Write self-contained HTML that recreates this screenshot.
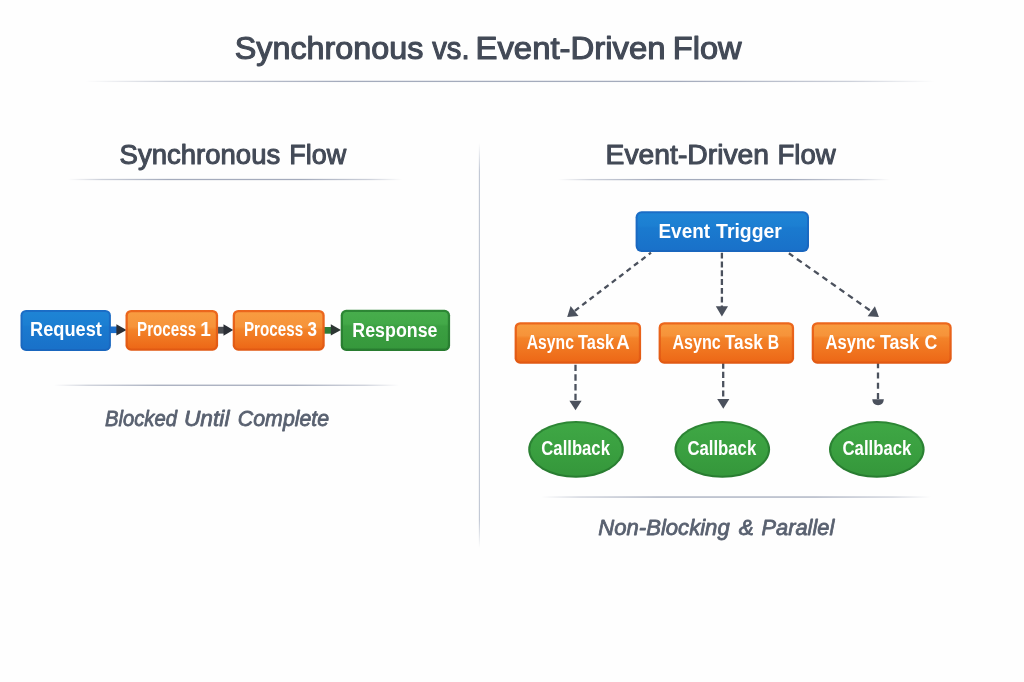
<!DOCTYPE html>
<html lang="en">
<head>
<meta charset="utf-8">
<title>Synchronous vs. Event-Driven Flow</title>
<style>
html,body{margin:0;padding:0;background:#fefefe;}
body{width:1024px;height:682px;overflow:hidden;font-family:"Liberation Sans",sans-serif;}
svg{display:block;will-change:transform;}
text{font-family:"Liberation Sans",sans-serif;}
.h1{font-size:31px;font-weight:400;fill:#434a57;stroke:#434a57;stroke-width:1.1px;stroke-linejoin:round;}
.h2{font-size:27px;font-weight:400;fill:#434a57;stroke:#434a57;stroke-width:1px;stroke-linejoin:round;}
.cap{font-size:22.3px;font-style:italic;fill:#596170;stroke:#596170;stroke-width:.8px;stroke-linejoin:round;}
.l1{font-size:20px;font-weight:700;fill:#ffffff;}
.l2{font-size:20px;font-weight:700;fill:#ffffff;}
.l3{font-size:20px;font-weight:700;fill:#ffffff;}
.dash{stroke:#4b515d;stroke-width:2.3;fill:none;}
.head{fill:#4b515d;}
</style>
</head>
<body>
<svg width="1024" height="682" viewBox="0 0 1024 682">
<defs>
  <linearGradient id="rule" x1="0" x2="1" y1="0" y2="0">
    <stop offset="0" stop-color="#a4abbc" stop-opacity="0"/>
    <stop offset=".1" stop-color="#a4abbc" stop-opacity=".55"/>
    <stop offset=".3" stop-color="#a4abbc" stop-opacity="1"/>
    <stop offset=".7" stop-color="#a4abbc" stop-opacity="1"/>
    <stop offset=".9" stop-color="#a4abbc" stop-opacity=".55"/>
    <stop offset="1" stop-color="#a4abbc" stop-opacity="0"/>
  </linearGradient>
  <linearGradient id="vrule" x1="0" x2="0" y1="0" y2="1">
    <stop offset="0" stop-color="#bcc3d1" stop-opacity="0"/>
    <stop offset=".07" stop-color="#bcc3d1" stop-opacity="1"/>
    <stop offset=".93" stop-color="#bcc3d1" stop-opacity="1"/>
    <stop offset="1" stop-color="#bcc3d1" stop-opacity="0"/>
  </linearGradient>
  <linearGradient id="blue" x1="0" x2="0" y1="0" y2="1">
    <stop offset="0" stop-color="#1e84d5"/>
    <stop offset=".34" stop-color="#1c7fd2"/>
    <stop offset=".40" stop-color="#1a7acf"/>
    <stop offset="1" stop-color="#1971c9"/>
  </linearGradient>
  <linearGradient id="orange" x1="0" x2="0" y1="0" y2="1">
    <stop offset="0" stop-color="#f89c40"/>
    <stop offset=".30" stop-color="#f6933a"/>
    <stop offset=".37" stop-color="#f38329"/>
    <stop offset="1" stop-color="#ed6817"/>
  </linearGradient>
  <linearGradient id="orangeS" x1="0" x2="0" y1="0" y2="1">
    <stop offset="0" stop-color="#f89c40"/>
    <stop offset=".40" stop-color="#f6933a"/>
    <stop offset=".48" stop-color="#f38329"/>
    <stop offset="1" stop-color="#ed6817"/>
  </linearGradient>
  <linearGradient id="green" x1="0" x2="0" y1="0" y2="1">
    <stop offset="0" stop-color="#47ad4c"/>
    <stop offset=".32" stop-color="#43a948"/>
    <stop offset=".39" stop-color="#3b9f41"/>
    <stop offset="1" stop-color="#36983c"/>
  </linearGradient>
  <linearGradient id="egreen" x1="0" x2="0" y1="0" y2="1">
    <stop offset="0" stop-color="#3fa745"/>
    <stop offset=".5" stop-color="#3aa040"/>
    <stop offset="1" stop-color="#35973b"/>
  </linearGradient>
  <linearGradient id="oborder" x1="0" x2="0" y1="0" y2="1">
    <stop offset="0" stop-color="#ec671d"/>
    <stop offset="1" stop-color="#e15913"/>
  </linearGradient>
  <linearGradient id="gborder" x1="0" x2="0" y1="0" y2="1">
    <stop offset="0" stop-color="#2d8735"/>
    <stop offset="1" stop-color="#287c30"/>
  </linearGradient>
  <linearGradient id="bborder" x1="0" x2="0" y1="0" y2="1">
    <stop offset="0" stop-color="#1b6dc6"/>
    <stop offset="1" stop-color="#1966be"/>
  </linearGradient>
</defs>

<rect width="1024" height="682" fill="#fefefe"/>

<!-- rules -->
<rect x="85" y="80.75" width="850" height="1.3" fill="url(#rule)"/>
<rect x="68" y="178.85" width="334" height="1.3" fill="url(#rule)"/>
<rect x="558" y="178.95" width="332" height="1.3" fill="url(#rule)"/>
<rect x="54" y="384.6" width="345" height="1.3" fill="url(#rule)"/>
<rect x="541" y="496.4" width="390" height="1.3" fill="url(#rule)"/>
<rect x="478.85" y="143" width="1.05" height="405" fill="url(#vrule)"/>

<!-- sync flow connectors -->
<rect x="110" y="326.5" width="9" height="6.6" fill="#1c6fcb"/>
<polygon points="116.4,324.3 126.6,330 116.4,335.6" fill="#2b2f36"/>
<rect x="217" y="326.8" width="9" height="6.8" fill="#4a4d52"/>
<polygon points="223.5,324.2 233.3,330 223.5,335.7" fill="#2b2f36"/>
<rect x="324" y="327" width="8.5" height="6.7" fill="#2f7d38"/>
<polygon points="330.8,324.3 341,329.9 330.8,335.4" fill="#2c3532"/>

<!-- sync flow boxes -->
<rect x="20.5" y="310" width="90.4" height="40.9" rx="5.5" fill="url(#bborder)"/>
<rect x="22.5" y="312.0" width="86.4" height="36.9" rx="3.7" fill="url(#blue)"/>
<rect x="125.5" y="310" width="92.6" height="40.7" rx="5.5" fill="url(#oborder)"/>
<rect x="127.8" y="312.3" width="88.0" height="36.1" rx="3.7" fill="url(#orangeS)"/>
<rect x="232.7" y="310" width="92" height="40.7" rx="5.5" fill="url(#oborder)"/>
<rect x="235.0" y="312.3" width="87.4" height="36.1" rx="3.7" fill="url(#orangeS)"/>
<rect x="340.7" y="309.8" width="109.4" height="41.1" rx="5.5" fill="url(#gborder)"/>
<rect x="343.0" y="312.1" width="104.8" height="36.5" rx="3.7" fill="url(#green)"/>

<!-- event-driven arrows -->
<line class="dash" x1="651" y1="252.7" x2="574.6" y2="311" stroke-dasharray="5.2 4.1" stroke-dashoffset="2.4"/>
<line class="dash" x1="721.9" y1="252.7" x2="721.9" y2="307" stroke-dasharray="5.9 2.9"/>
<line class="dash" x1="788.9" y1="253.3" x2="870.6" y2="310.8" stroke-dasharray="5.9 4.5" stroke-dashoffset="0.6"/>
<polygon class="head" points="567.2,316.9 570.6,306.1 578.5,315.9"/>
<polygon class="head" points="715.8,306.3 728,306.3 721.9,316.4"/>
<polygon class="head" points="878.9,316.9 867.6,316.2 874.9,306.2"/>

<line class="dash" x1="575.5" y1="364.7" x2="575.5" y2="401.5" stroke-dasharray="6.4 3.27"/>
<line class="dash" x1="723.2" y1="362.5" x2="723.2" y2="399.5" stroke-dasharray="6.2 3.1"/>
<line class="dash" x1="878" y1="362.4" x2="878" y2="399.8" stroke-dasharray="5.9 4.3"/>
<polygon class="head" points="569.4,400.7 581.6,400.7 575.5,410.3"/>
<polygon class="head" points="717.2,398.9 729.4,398.9 723.3,408.8"/>
<path class="head" d="M872.2,399.3h11.7q-0.6,5.9 -5.85,5.9q-5.25,0 -5.85,-5.9z"/>

<!-- event-driven boxes -->
<rect x="635.6" y="211.2" width="173.4" height="40.7" rx="6" fill="url(#bborder)"/>
<rect x="637.6" y="213.2" width="169.4" height="36.7" rx="4.2" fill="url(#blue)"/>
<rect x="514.6" y="322.2" width="126.5" height="41.5" rx="5.5" fill="url(#oborder)"/>
<rect x="516.9" y="324.5" width="121.9" height="36.9" rx="3.7" fill="url(#orange)"/>
<rect x="658.6" y="322.2" width="135.5" height="41.5" rx="5.5" fill="url(#oborder)"/>
<rect x="660.9" y="324.5" width="130.9" height="36.9" rx="3.7" fill="url(#orange)"/>
<rect x="811.7" y="322.2" width="140" height="41.5" rx="5.5" fill="url(#oborder)"/>
<rect x="814.0" y="324.5" width="135.4" height="36.9" rx="3.7" fill="url(#orange)"/>

<ellipse cx="576" cy="449.4" rx="47.8" ry="28.4" fill="url(#gborder)"/>
<ellipse cx="576" cy="449.4" rx="45.7" ry="26.3" fill="url(#egreen)"/>
<ellipse cx="722.3" cy="449.4" rx="47.8" ry="28.4" fill="url(#gborder)"/>
<ellipse cx="722.3" cy="449.4" rx="45.7" ry="26.3" fill="url(#egreen)"/>
<ellipse cx="876.8" cy="449.4" rx="47.8" ry="28.4" fill="url(#gborder)"/>
<ellipse cx="876.8" cy="449.4" rx="45.7" ry="26.3" fill="url(#egreen)"/>

<filter id="nf" filterUnits="userSpaceOnUse" x="0" y="0" width="1024" height="682"><feOffset dx="0" dy="0"/></filter>
<g id="labels" filter="url(#nf)">
<text class="h1"><tspan x="234.75" y="58.8" textLength="188.58" lengthAdjust="spacingAndGlyphs">Synchronous</tspan> <tspan x="432.21" y="58.8" textLength="37.33" lengthAdjust="spacingAndGlyphs">vs.</tspan> <tspan x="475.46" y="58.8" textLength="190.17" lengthAdjust="spacingAndGlyphs">Event-Driven</tspan> <tspan x="672.88" y="58.8" textLength="68.75" lengthAdjust="spacingAndGlyphs">Flow</tspan></text>
<text class="h2"><tspan x="119.54" y="163.5" textLength="160.68" lengthAdjust="spacingAndGlyphs">Synchronous</tspan> <tspan x="289.32" y="163.5" textLength="56.91" lengthAdjust="spacingAndGlyphs">Flow</tspan></text>
<text class="h2"><tspan x="605.54" y="163.5" textLength="163.56" lengthAdjust="spacingAndGlyphs">Event-Driven</tspan> <tspan x="777.48" y="163.5" textLength="58.23" lengthAdjust="spacingAndGlyphs">Flow</tspan></text>
<text class="cap"><tspan x="104.96" y="426.0" textLength="72.02" lengthAdjust="spacingAndGlyphs">Blocked</tspan> <tspan x="183.95" y="426.0" textLength="45.51" lengthAdjust="spacingAndGlyphs">Until</tspan> <tspan x="237.86" y="426.0" textLength="91.28" lengthAdjust="spacingAndGlyphs">Complete</tspan></text>
<text class="cap"><tspan x="598.32" y="535.0" textLength="131.37" lengthAdjust="spacingAndGlyphs">Non-Blocking</tspan> <tspan x="738.74" y="535.0" textLength="15.03" lengthAdjust="spacingAndGlyphs">&amp;</tspan> <tspan x="761.43" y="535.0" textLength="72.83" lengthAdjust="spacingAndGlyphs">Parallel</tspan></text>
<text class="l1"><tspan x="30.04" y="336.0" textLength="71.83" lengthAdjust="spacingAndGlyphs">Request</tspan></text>
<text class="l1"><tspan x="137.05" y="336.0" textLength="59.05" lengthAdjust="spacingAndGlyphs">Process</tspan> <tspan x="200.23" y="336.0" textLength="10.63" lengthAdjust="spacingAndGlyphs">1</tspan></text>
<text class="l1"><tspan x="243.95" y="336.1" textLength="59.15" lengthAdjust="spacingAndGlyphs">Process</tspan> <tspan x="307.41" y="336.1" textLength="9.46" lengthAdjust="spacingAndGlyphs">3</tspan></text>
<text class="l1"><tspan x="352.36" y="337.0" textLength="85.07" lengthAdjust="spacingAndGlyphs">Response</tspan></text>
<text class="l2"><tspan x="658.49" y="237.6" textLength="51.57" lengthAdjust="spacingAndGlyphs">Event</tspan> <tspan x="716.12" y="237.6" textLength="65.69" lengthAdjust="spacingAndGlyphs">Trigger</tspan></text>
<text class="l3"><tspan x="526.77" y="348.9" textLength="47.12" lengthAdjust="spacingAndGlyphs">Async</tspan> <tspan x="578.07" y="348.9" textLength="35.95" lengthAdjust="spacingAndGlyphs">Task</tspan> <tspan x="616.27" y="348.9" textLength="13.46" lengthAdjust="spacingAndGlyphs">A</tspan></text>
<text class="l3"><tspan x="672.46" y="348.9" textLength="48.24" lengthAdjust="spacingAndGlyphs">Async</tspan> <tspan x="724.85" y="348.9" textLength="37.98" lengthAdjust="spacingAndGlyphs">Task</tspan> <tspan x="767.71" y="348.9" textLength="11.38" lengthAdjust="spacingAndGlyphs">B</tspan></text>
<text class="l3"><tspan x="825.44" y="348.9" textLength="49.88" lengthAdjust="spacingAndGlyphs">Async</tspan> <tspan x="879.95" y="348.9" textLength="39.19" lengthAdjust="spacingAndGlyphs">Task</tspan> <tspan x="924.39" y="348.9" textLength="12.80" lengthAdjust="spacingAndGlyphs">C</tspan></text>
<text class="l2"><tspan x="541.34" y="454.9" textLength="68.57" lengthAdjust="spacingAndGlyphs">Callback</tspan></text>
<text class="l2"><tspan x="687.43" y="454.9" textLength="68.77" lengthAdjust="spacingAndGlyphs">Callback</tspan></text>
<text class="l2"><tspan x="842.53" y="454.9" textLength="68.87" lengthAdjust="spacingAndGlyphs">Callback</tspan></text>
</g>
</svg>
</body>
</html>
